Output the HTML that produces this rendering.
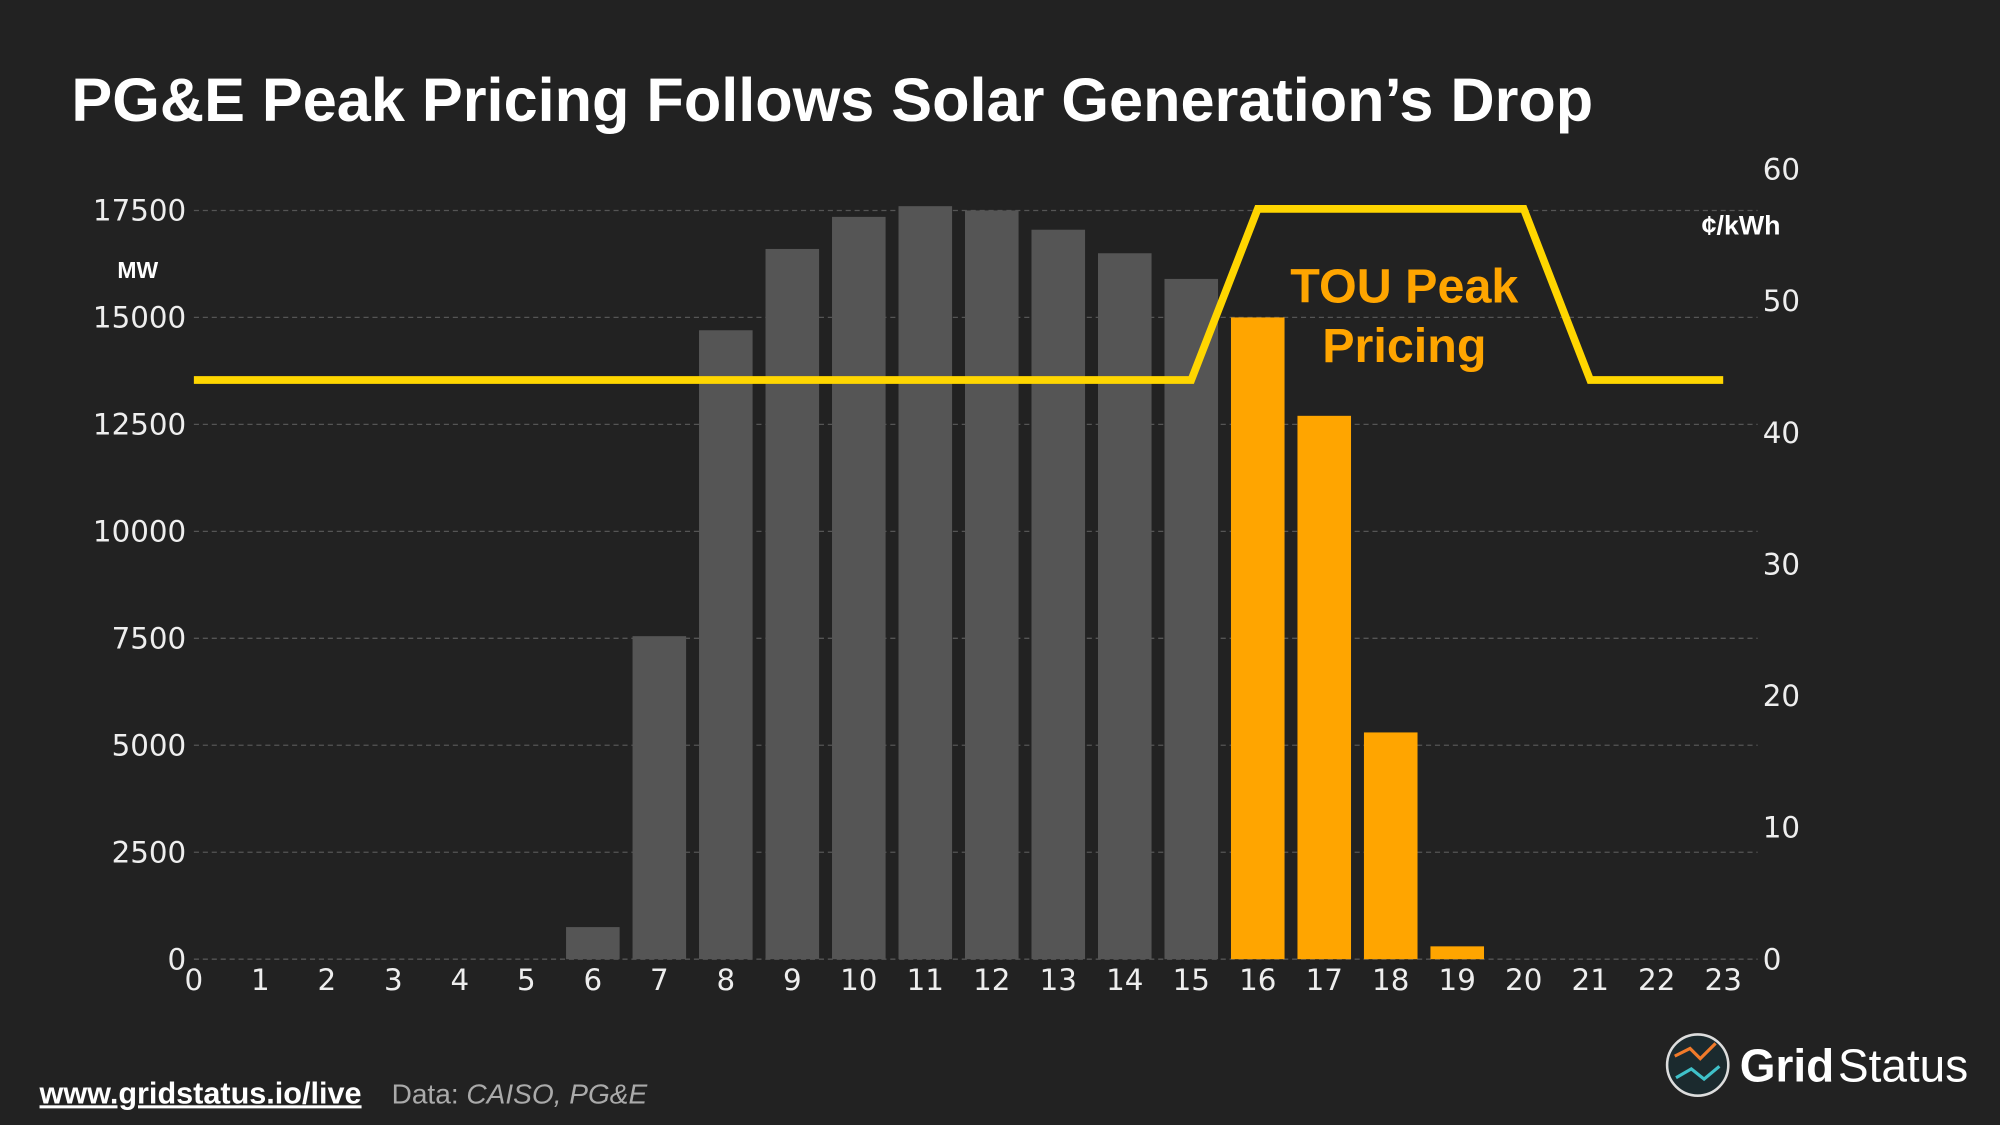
<!DOCTYPE html>
<html><head><meta charset="utf-8"><style>
html,body{margin:0;padding:0;background:#222;}
svg{display:block}
</style></head><body>
<svg id="chart" width="2000" height="1125" viewBox="0 0 1568 882" xmlns="http://www.w3.org/2000/svg">
<rect x="0" y="0" width="1568" height="882" fill="#222222"/>
<text x="56" y="95" fill="#ffffff" font-family="Liberation Sans, sans-serif" font-weight="bold" font-size="48">PG&amp;E Peak Pricing Follows Solar Generation’s Drop</text>
<g id="grid"></g>
<g id="bars"></g>
<g id="line"></g>
<g id="axes"></g>
<text x="108" y="218" fill="#fff" font-family="Liberation Sans, sans-serif" font-weight="bold" font-size="18" text-anchor="middle">MW</text>
<text x="1365" y="184" fill="#fff" font-family="Liberation Sans, sans-serif" font-weight="bold" font-size="21" text-anchor="middle">¢/kWh</text>
<text fill="#FFA500" font-family="Liberation Sans, sans-serif" font-weight="bold" font-size="38" text-anchor="middle"><tspan x="1101" y="237">TOU Peak</tspan><tspan x="1101" y="284">Pricing</tspan></text>
<a><text x="31" y="865" fill="#fff" font-family="Liberation Sans, sans-serif" font-weight="bold" font-size="24" text-decoration="underline">www.gridstatus.io/live</text></a>
<text x="307" y="865" fill="#aaa" font-family="Liberation Sans, sans-serif" font-size="22">Data: <tspan font-style="italic">CAISO, PG&amp;E</tspan></text>
<g>
<circle cx="1331" cy="835" r="24" fill="#1b2a2e" stroke="#ddd" stroke-width="2"/>
<path d="M1313 828 L1325 822 L1333 830 L1345 818" stroke="#f07a2a" stroke-width="2.5" fill="none"/>
<path d="M1314 845 L1326 838 L1336 846 L1348 836" stroke="#3fc1c9" stroke-width="2.5" fill="none"/>
<text x="1364" y="848" fill="#fff" font-family="Liberation Sans, sans-serif" font-weight="bold" font-size="36">Grid</text>
<text x="1441" y="848" fill="#fff" font-family="Liberation Sans, sans-serif" font-size="36">Status</text>
</g>
</svg>
<script>
const hours = [0,1,2,3,4,5,6,7,8,9,10,11,12,13,14,15,16,17,18,19,20,21,22,23];
const solarMW = [0,0,0,0,0,0,750,7550,14700,16600,17350,17600,17500,17050,16500,15900,15000,12700,5300,300,0,0,0,0];
const peakHours = [16,17,18,19];
const priceHours = [0,15,16,20,21,23];
const priceValues = [44,44,57,57,44,44];
const leftTicks = [0,2500,5000,7500,10000,12500,15000,17500];
const rightTicks = [0,10,20,30,40,50,60];

const NS="http://www.w3.org/2000/svg";
const x = h => 152 + h*52.13;
const yL = v => 752 - v*(587/17500);
const yR = v => 752 - v*10.32;
function mk(tag, attrs, parent){const e=document.createElementNS(NS,tag);for(const k in attrs)e.setAttribute(k,attrs[k]);document.getElementById(parent).appendChild(e);return e;}
const font="DejaVu Sans, sans-serif";
leftTicks.forEach(t=>{
  const g=mk('line',{x1:152,x2:1378,y1:yL(t),y2:yL(t),stroke:'#555','stroke-dasharray':'4,3','stroke-width':1},'grid');
  
  
  const l=mk('text',{x:146,y:yL(t)+8,fill:'#eee','font-family':font,'font-size':23,'text-anchor':'end'},'axes');
  l.textContent=t;
  
  
});
rightTicks.forEach(t=>{
  const l=mk('text',{x:1382,y:yR(t)+8,fill:'#eee','font-family':font,'font-size':23},'axes');
  l.textContent=t;
  
  
});
hours.forEach(h=>{
  const l=mk('text',{x:x(h),y:776,fill:'#eee','font-family':font,'font-size':23,'text-anchor':'middle'},'axes');
  l.textContent=h;
  
  
});
solarMW.forEach((v,i)=>{
  if(v<=0)return;
  const b=mk('rect',{x:x(hours[i])-21,y:yL(v),width:42,height:752-yL(v),fill:peakHours.includes(hours[i])?'#FFA500':'#555555'},'bars');
  
  
});
const pts=priceHours.map((h,i)=>x(h)+','+yR(priceValues[i])).join(' ');
const pl=mk('polyline',{points:pts,fill:'none',stroke:'#FFD600','stroke-width':6,'stroke-linejoin':'miter'},'line');


</script>
</body></html>
